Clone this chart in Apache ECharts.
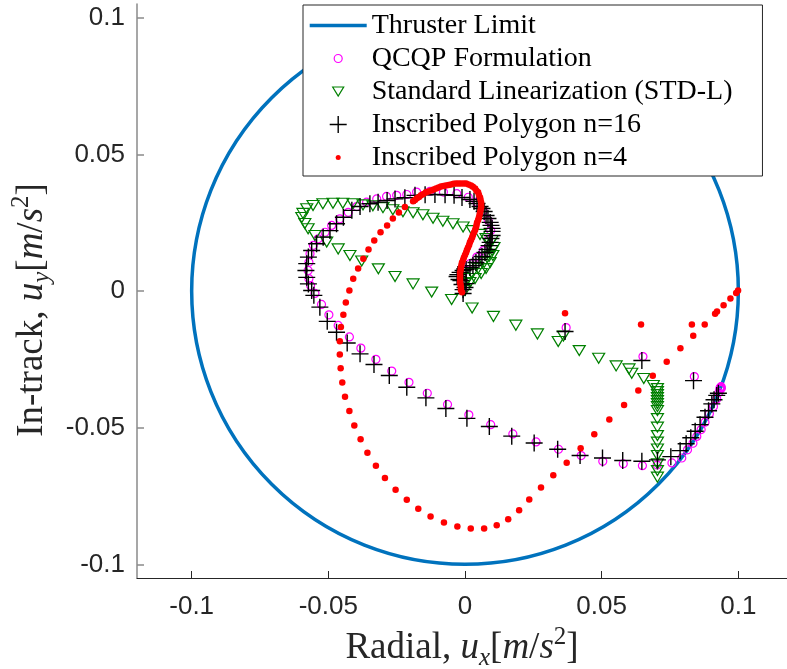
<!DOCTYPE html>
<html>
<head>
<meta charset="utf-8">
<script src="https://cdn.jsdelivr.net/npm/echarts@6/dist/echarts.min.js"></script>
<style>
  html, body { margin: 0; padding: 0; background: #fff; }
  #chart { width: 787px; height: 669px; }
</style>
</head>
<body>
<div id="chart"></div>
<script>
// tick labels
const xTicks = [-0.1, -0.05, 0, 0.05, 0.1];
const yTicks = [-0.1, -0.05, 0, 0.05, 0.1];

// thruster limit circle: centre and radius
const limitCenter = [0, 0];
const limitRadius = 0.1;

// QCQP formulation
const qcqpPts = [
  [-0.0006, 0.0002], [-0.0006, 0.0038], [0, 0.0075], [0.0018, 0.0100], [0.0043, 0.0124],
  [0.0067, 0.0148], [0.0085, 0.0185], [0.0094, 0.0221], [0.0085, 0.0258], [0.0067, 0.0294],
  [0.0043, 0.0325], [0.0012, 0.0343], [-0.0030, 0.0356], [-0.0079, 0.0362], [-0.0128, 0.0365],
  [-0.0177, 0.0362], [-0.0213, 0.0353], [-0.0250, 0.0350], [-0.0287, 0.0346], [-0.0323, 0.0337],
  [-0.0360, 0.0325], [-0.0396, 0.0309], [-0.0427, 0.0288], [-0.0458, 0.0264], [-0.0488, 0.0240],
  [-0.0512, 0.0215], [-0.0537, 0.0191], [-0.0555, 0.0167], [-0.0567, 0.0136], [-0.0571, 0.0105],
  [-0.0574, 0.0075], [-0.0571, 0.0045], [-0.0565, 0.0020], [-0.0549, -0.0009], [-0.0525, -0.0049],
  [-0.0498, -0.0087], [-0.0464, -0.0126], [-0.0423, -0.0168], [-0.0381, -0.0209], [-0.0326, -0.0250],
  [-0.0268, -0.0293], [-0.0205, -0.0334], [-0.0138, -0.0374], [-0.0064, -0.0415], [0.0014, -0.0453],
  [0.0094, -0.0489], [0.0175, -0.0523], [0.0260, -0.0552], [0.0342, -0.0579], [0.0425, -0.0602],
  [0.0504, -0.0623], [0.0579, -0.0632], [0.0649, -0.0639], [0.0703, -0.0637], [0.0757, -0.0629],
  [0.0793, -0.0611], [0.0814, -0.0581], [0.0834, -0.0557], [0.0848, -0.0532], [0.0864, -0.0507],
  [0.0878, -0.0480], [0.0894, -0.0449], [0.0909, -0.0423], [0.0921, -0.0395], [0.0929, -0.0371],
  [0.0933, -0.0360], [0.0933, -0.0355], [0.0937, -0.0350], [0.0935, -0.0352], [0.0938, -0.0356],
  [0.0370, -0.0134], [0.0651, -0.0240], [0.0839, -0.0313]
];

// standard linearization (STD-L)
const stdlPts = [
  [0, 0.0002], [0, 0.0027], [0.0011, 0.0046], [0.0026, 0.0064], [0.0048, 0.0082],
  [0.0070, 0.0104], [0.0088, 0.0126], [0.0099, 0.0148], [0.0092, 0.0174], [0.0077, 0.0192],
  [0.0018, 0.0031], [0.0037, 0.0046], [0.0059, 0.0064], [0.0077, 0.0082], [0.0092, 0.0104],
  [0.0102, 0.0130], [0.0106, 0.0159], [0.0099, 0.0185],
  [0.0055, 0.0207], [0.0026, 0.0221], [-0.0007, 0.0234], [-0.0044, 0.0246], [-0.0081, 0.0255],
  [-0.0117, 0.0266], [-0.0154, 0.0279], [-0.0190, 0.0286], [-0.0227, 0.0290], [-0.0264, 0.0297],
  [-0.0300, 0.0305], [-0.0337, 0.0312], [-0.0373, 0.0315], [-0.0410, 0.0319], [-0.0447, 0.0321],
  [-0.0483, 0.0321], [-0.0520, 0.0319], [-0.0556, 0.0313], [-0.0579, 0.0301], [-0.0593, 0.0284],
  [-0.0597, 0.0269], [-0.0586, 0.0247], [-0.0574, 0.0228], [-0.0549, 0.0203], [-0.0506, 0.0179],
  [-0.0464, 0.0154], [-0.0421, 0.0130], [-0.0378, 0.0110], [-0.0317, 0.0081], [-0.0256, 0.0053],
  [-0.0190, 0.0026], [-0.0122, -0.0004], [-0.0049, -0.0031], [0.0026, -0.0062], [0.0104, -0.0093],
  [0.0186, -0.0125], [0.0265, -0.0157], [0.0341, -0.0185], [0.0360, -0.0165], [0.0418, -0.0218],
  [0.0489, -0.0246], [0.0553, -0.0274], [0.0600, -0.0285], [0.0610, -0.0301], [0.0654, -0.0320],
  [0.0689, -0.0346], [0.0704, -0.0357], [0.0704, -0.0368], [0.0704, -0.0379], [0.0704, -0.0390],
  [0.0704, -0.0401], [0.0704, -0.0412], [0.0704, -0.0423], [0.0704, -0.0437], [0.0704, -0.0467],
  [0.0704, -0.0498], [0.0704, -0.0529], [0.0704, -0.0553], [0.0704, -0.0578], [0.0704, -0.0602],
  [0.0704, -0.0632], [0.0704, -0.0657], [0.0704, -0.0681]
];

// inscribed polygon n=16
const poly16Pts = [
  [-0.0007, -0.0009], [0, 0.0013], [0.0004, 0.0027], [-0.0015, 0.0038], [-0.0026, 0.0060],
  [-0.0007, 0.0005], [-0.0011, 0.0024], [-0.0022, 0.0042], [-0.0029, 0.0053], [-0.0018, 0.0068],
  [0.0004, 0.0079], [0.0029, 0.0093], [0.0051, 0.0115], [0.0073, 0.0141], [0.0088, 0.0166],
  [0.0095, 0.0192], [0.0099, 0.0218], [0.0095, 0.0240], [0.0084, 0.0265], [0.0070, 0.0291],
  [0.0055, 0.0309], [0.0033, 0.0328],
  [-0.0007, 0.0075], [0.0018, 0.0086], [0.0040, 0.0104], [0.0062, 0.0126], [0.0081, 0.0152],
  [0.0092, 0.0178], [0.0099, 0.0203], [0.0099, 0.0229], [0.0092, 0.0251], [0.0077, 0.0276],
  [0.0062, 0.0302], [0.0044, 0.0320], [0.0018, 0.0335], [-0.0011, 0.0342], [-0.0040, 0.0350],
  [-0.0073, 0.0352], [-0.0110, 0.0353], [-0.0146, 0.0352], [-0.0183, 0.0350], [-0.0220, 0.0341],
  [-0.0256, 0.0337], [-0.0285, 0.0331], [-0.0318, 0.0325], [-0.0348, 0.0319], [-0.0384, 0.0309],
  [-0.0414, 0.0295], [-0.0445, 0.0270], [-0.0470, 0.0246], [-0.0494, 0.0221], [-0.0519, 0.0197],
  [-0.0543, 0.0173], [-0.0561, 0.0148], [-0.0573, 0.0124], [-0.0579, 0.0100], [-0.0582, 0.0075],
  [-0.0579, 0.0050], [-0.0573, 0.0026], [-0.0561, 0.0002], [-0.0553, -0.0016], [-0.0531, -0.0059],
  [-0.0504, -0.0111], [-0.0470, -0.0151], [-0.0431, -0.0190], [-0.0384, -0.0230], [-0.0333, -0.0269],
  [-0.0277, -0.0309], [-0.0213, -0.0352], [-0.0143, -0.0391], [-0.0070, -0.0430], [0.0007, -0.0466],
  [0.0089, -0.0496], [0.0171, -0.0531], [0.0253, -0.0556], [0.0339, -0.0579], [0.0421, -0.0602],
  [0.0503, -0.0611], [0.0577, -0.0620], [0.0647, -0.0623], [0.0704, -0.0618], [0.0753, -0.0606],
  [0.0787, -0.0584], [0.0809, -0.0559], [0.0826, -0.0537], [0.0842, -0.0513], [0.0860, -0.0489],
  [0.0878, -0.0462], [0.0891, -0.0438], [0.0903, -0.0413], [0.0911, -0.0398], [0.0921, -0.0382],
  [0.0927, -0.0374], [0.0366, -0.0148], [0.0647, -0.0254], [0.0836, -0.0328]
];

// inscribed polygon n=4
const poly4Pts = [
  [-0.0011, -0.0005], [-0.0015, 0.0013], [-0.0018, 0.0031], [-0.0018, 0.0049], [-0.0018, 0.0068],
  [-0.0015, 0.0086], [-0.0011, 0.0104], [-0.0004, 0.0123], [0.0004, 0.0141], [0.0011, 0.0159],
  [0.0018, 0.0178], [0.0026, 0.0196], [0.0033, 0.0214], [0.0040, 0.0232], [0.0044, 0.0251],
  [0.0051, 0.0269], [0.0055, 0.0287], [0.0059, 0.0306], [0.0059, 0.0324], [0.0055, 0.0342],
  [0.0048, 0.0361], [0.0037, 0.0375], [0.0022, 0.0386], [0.0004, 0.0393], [-0.0015, 0.0393],
  [-0.0033, 0.0393], [-0.0051, 0.0390], [-0.0070, 0.0386], [-0.0088, 0.0382], [-0.0106, 0.0375],
  [-0.0124, 0.0368], [-0.0143, 0.0361], [-0.0161, 0.0350], [-0.0176, 0.0339], [-0.0190, 0.0328],
  [-0.0015, 0.0004], [-0.0016, 0.0022], [-0.0018, 0.0040], [-0.0018, 0.0058], [-0.0016, 0.0077],
  [-0.0013, 0.0095], [-0.0007, 0.0113], [0, 0.0132], [0.0007, 0.0150], [0.0015, 0.0168],
  [0.0022, 0.0187], [0.0029, 0.0205], [0.0037, 0.0223], [0.0042, 0.0241], [0.0048, 0.0260],
  [0.0053, 0.0278], [0.0057, 0.0296], [0.0059, 0.0315], [0.0057, 0.0333], [0.0051, 0.0351],
  [0.0042, 0.0367], [0.0029, 0.0381], [0.0013, 0.0390], [-0.0005, 0.0393], [-0.0024, 0.0393],
  [-0.0042, 0.0392], [-0.0060, 0.0388], [-0.0079, 0.0384], [-0.0097, 0.0379], [-0.0115, 0.0371],
  [-0.0134, 0.0364], [-0.0152, 0.0355], [-0.0168, 0.0344], [-0.0183, 0.0333],
  [-0.0220, 0.0307], [-0.0242, 0.0287], [-0.0264, 0.0265], [-0.0285, 0.0240], [-0.0309, 0.0215],
  [-0.0332, 0.0185], [-0.0353, 0.0152], [-0.0372, 0.0118], [-0.0391, 0.0082], [-0.0409, 0.0045],
  [-0.0423, 0.0002], [-0.0436, -0.0042], [-0.0445, -0.0087], [-0.0454, -0.0132], [-0.0458, -0.0184],
  [-0.0458, -0.0232], [-0.0455, -0.0283], [-0.0449, -0.0335], [-0.0439, -0.0387], [-0.0423, -0.0439],
  [-0.0405, -0.0492], [-0.0382, -0.0542], [-0.0357, -0.0592], [-0.0326, -0.0639], [-0.0293, -0.0684],
  [-0.0254, -0.0727], [-0.0213, -0.0764], [-0.0171, -0.0797], [-0.0126, -0.0825], [-0.0077, -0.0847],
  [-0.0028, -0.0862], [0.0021, -0.0869], [0.0070, -0.0869], [0.0116, -0.0857], [0.0158, -0.0835],
  [0.0198, -0.0802], [0.0235, -0.0763], [0.0278, -0.0719], [0.0323, -0.0674], [0.0372, -0.0628],
  [0.0423, -0.0575], [0.0473, -0.0524], [0.0528, -0.0470], [0.0582, -0.0417], [0.0634, -0.0364],
  [0.0687, -0.0310], [0.0738, -0.0259], [0.0788, -0.0209], [0.0835, -0.0164], [0.0877, -0.0123],
  [0.0830, -0.0123], [0.0644, -0.0123], [0.0366, -0.0081], [0.0915, -0.0083], [0.0922, -0.0075],
  [0.0946, -0.0052], [0.0971, -0.0027], [0.0992, -0.0007], [0.0999, 0.0002]
];

const names = [
  'Thruster Limit',
  'QCQP Formulation',
  'Standard Linearization (STD-L)',
  'Inscribed Polygon n=16',
  'Inscribed Polygon n=4'
];

const axisFont = 'Liberation Sans, Arial, sans-serif';
const serifFont = 'Liberation Serif, Times New Roman, serif';

// rich styles for the LaTeX-like axis titles
const nameRich = {
  n: { fontFamily: serifFont, fontSize: 37, color: '#262626', lineHeight: 46 },
  i: { fontFamily: serifFont, fontSize: 37, fontStyle: 'italic', color: '#262626', lineHeight: 46 },
  s: { fontFamily: serifFont, fontSize: 25, fontStyle: 'italic', color: '#262626', lineHeight: 25, verticalAlign: 'bottom' },
  p: { fontFamily: serifFont, fontSize: 25, color: '#262626', lineHeight: 25, verticalAlign: 'top' },
  g: { width: 38, lineHeight: 46 }
};

const plusPath = 'path://M-1,0H1M0,-1V1';

const chart = echarts.init(document.getElementById('chart'), null, { renderer: 'canvas' });

chart.setOption({
  backgroundColor: '#fff',
  animation: false,
  grid: { left: 137, top: 4, right: 0, height: 574, outerBoundsMode: 'none', containLabel: false },
  legend: {
    orient: 'vertical',
    left: 303,
    top: 5,
    padding: [4, 30, 2, 6],
    itemGap: 0,
    itemWidth: 57,
    itemHeight: 18,
    selectedMode: false,
    backgroundColor: '#fff',
    borderColor: '#262626',
    borderWidth: 1,
    textStyle: { fontFamily: serifFont, fontSize: 28, color: '#000', lineHeight: 33 },
    data: [
      { name: names[0], icon: 'path://M0,0M57,18M0,7.25H57V10.75H0Z',
        itemStyle: { color: '#0072BD', borderWidth: 0 } },
      { name: names[1], icon: 'path://M0,0M57,18M24.5,9A4,4,0,1,0,32.5,9A4,4,0,1,0,24.5,9Z',
        itemStyle: { color: 'rgba(0,0,0,0)', borderColor: '#FF00FF', borderWidth: 1.2 } },
      { name: names[2], icon: 'path://M0,0M57,18M23,4.5H34L28.5,13.5Z',
        itemStyle: { color: 'rgba(0,0,0,0)', borderColor: '#008000', borderWidth: 1.2 } },
      { name: names[3], icon: 'path://M0,0M57,18M20,9H37M28.5,0.5V17.5',
        itemStyle: { color: 'rgba(0,0,0,0)', borderColor: '#000', borderWidth: 1.4 } },
      { name: names[4], icon: 'path://M0,0M57,18M26,9A2.5,2.5,0,1,0,31,9A2.5,2.5,0,1,0,26,9Z',
        itemStyle: { color: '#FF0000', borderWidth: 0 } }
    ]
  },
  xAxis: {
    type: 'value',
    min: -0.12,
    max: 0.1178,
    name: '{n|Radial, }{i|u}{s|x}{n|[}{i|m}{n|/}{i|s}{p|2}{n|]}',
    nameLocation: 'middle',
    nameGap: 42,
    nameTextStyle: { rich: nameRich },
    axisLine: { onZero: false, lineStyle: { color: '#262626', width: 1 } },
    axisTick: { inside: true, length: 7, customValues: xTicks, lineStyle: { color: '#262626' } },
    axisLabel: { customValues: xTicks, margin: 16, color: '#262626', fontFamily: axisFont, fontSize: 26 },
    splitLine: { show: false }
  },
  yAxis: {
    type: 'value',
    min: -0.105,
    max: 0.105,
    name: '{n|In-track, }{i|u}{s|y}{n|[}{i|m}{n|/}{i|s}{p|2}{n|]}{g|}',
    nameLocation: 'middle',
    nameGap: 78,
    nameTextStyle: { rich: nameRich },
    axisLine: { onZero: false, lineStyle: { color: '#8a8a8a', width: 1.5 } },
    axisTick: { inside: true, length: 7, customValues: yTicks, lineStyle: { color: '#8a8a8a', width: 1.5 } },
    axisLabel: { customValues: yTicks, margin: 12, color: '#262626', fontFamily: axisFont, fontSize: 26 },
    splitLine: { show: false }
  },
  series: [
    {
      name: names[0],
      type: 'custom',
      encode: { x: 0, y: 1 },
      data: [[limitCenter[0], limitCenter[1], limitRadius]],
      renderItem: function (params, api) {
        const c = api.coord([api.value(0), api.value(1)]);
        const r = api.size([api.value(2), 0])[0];
        return {
          type: 'circle',
          shape: { cx: c[0], cy: c[1], r: r },
          style: { fill: 'none', stroke: '#0072BD', lineWidth: 3.5 }
        };
      }
    },
    {
      name: names[1],
      type: 'scatter',
      data: qcqpPts,
      symbol: 'circle',
      symbolSize: 8,
      itemStyle: { color: 'rgba(0,0,0,0)', borderColor: '#FF00FF', borderWidth: 1.2, opacity: 1 }
    },
    {
      name: names[2],
      type: 'scatter',
      data: stdlPts,
      symbol: 'triangle',
      symbolSize: [12, 10],
      symbolRotate: 180,
      itemStyle: { color: 'rgba(0,0,0,0)', borderColor: '#008000', borderWidth: 1.2, opacity: 1 }
    },
    {
      name: names[3],
      type: 'scatter',
      data: poly16Pts,
      symbol: plusPath,
      symbolSize: 17,
      itemStyle: { color: 'rgba(0,0,0,0)', borderColor: '#000', borderWidth: 1.4, opacity: 1 }
    },
    {
      name: names[4],
      type: 'scatter',
      data: poly4Pts,
      symbol: 'circle',
      symbolSize: 6.5,
      itemStyle: { color: '#FF0000', borderWidth: 0, opacity: 1 }
    }
  ]
});
</script>
</body>
</html>
